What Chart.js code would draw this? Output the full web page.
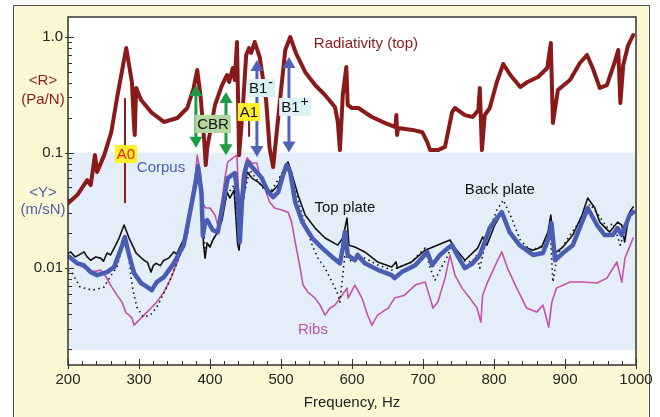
<!DOCTYPE html>
<html><head><meta charset="utf-8">
<script src="https://cdn.jsdelivr.net/npm/chart.js@4"></script>
<style>html,body{margin:0;padding:0;background:#fff;}canvas{display:block}</style>
</head><body><canvas id="c" width="660" height="417"></canvas>
<script>
// ---------- DATA ----------
const freqRad = [200,213,227,232,238,241,251,261,269,282,290,293,294,296,303,317,335,354,368,377,382,387,392,394,396,407,417,424,427,432,435,438,441,446,451,455,458,463,470,479,484,489,496,506,513,521,534,548,562,576,580,583,587,592,594,600,609,628,647,661,662.5,663.5,665,685,699,706,710,721,731,741,745,759,770,778,780,783,787,794,804,813,823,837,847,862,875,880,883,890,907,921,931,939,949,959,970,975,978,982,989,996];
const valRad = [0.0365,0.0429,0.0578,0.0523,0.095,0.0678,0.095,0.150,0.296,0.803,0.408,0.173,0.142,0.362,0.285,0.224,0.184,0.199,0.243,0.362,0.518,0.296,0.123,0.078,0.109,0.258,0.384,0.469,0.408,0.539,0.424,0.905,0.095,0.233,0.699,0.803,0.727,0.905,0.671,0.285,0.109,0.0749,0.199,0.772,1.0,0.727,0.498,0.384,0.315,0.248,0.184,0.105,0.315,0.55,0.258,0.243,0.243,0.203,0.18,0.166,0.211,0.142,0.163,0.157,0.150,0.123,0.105,0.105,0.112,0.224,0.243,0.211,0.203,0.233,0.362,0.105,0.211,0.243,0.408,0.584,0.469,0.369,0.408,0.451,0.539,0.887,0.18,0.348,0.424,0.596,0.699,0.539,0.362,0.384,0.607,0.772,0.268,0.572,0.852,1.04];

const freqCorpus = [200,204,213,222,232,241,255,265,275,280,286,293,303,314,318,325,335,349,363,373,380,383,388,390,393,396,404,411,418,425,435,439,442,445,449,453,463,473,482,489,496,503,508,513,520,530,544,558,572,583,587,590,594,604,608,618,637,656,660,670,689,700,706,713,724,735,741,748,759,770,780,787,794,804,811,822,836,855,869,877,881,886,897,911,924,932,945,956,967,974,980,984,991,996];
const valCorpus = [0.0127,0.0122,0.0110,0.0106,0.00923,0.00869,0.00923,0.0102,0.0149,0.0186,0.0130,0.00905,0.00742,0.00671,0.00645,0.00757,0.00836,0.0110,0.0158,0.0331,0.0555,0.076,0.045,0.019,0.025,0.026,0.0213,0.0205,0.0351,0.0601,0.0665,0.0429,0.0168,0.0373,0.0678,0.0827,0.0705,0.0601,0.0455,0.0412,0.0455,0.0638,0.0779,0.0678,0.0373,0.025,0.0182,0.0149,0.0125,0.0110,0.0149,0.0205,0.0130,0.0117,0.0130,0.0110,0.00961,0.00869,0.00819,0.00923,0.0106,0.0125,0.0138,0.0106,0.0130,0.0149,0.0158,0.0130,0.0100,0.0110,0.0130,0.0168,0.0222,0.0271,0.0305,0.0205,0.0158,0.0130,0.0135,0.0182,0.0245,0.0117,0.0135,0.0158,0.025,0.0331,0.0236,0.0193,0.0193,0.0222,0.0193,0.0222,0.0288,0.0305];

const freqTop = [200,204,210,215.5,222.5,227,232,239,246,250,255,260,265,272,279,286,296,307,312,317,320,324,330,335,342,349,353,359,368,375,380,383,387,391,393,396,400,404,410,417,424,428,434,439,441,446,452,459,468,477,487,496,506,510,517,524,534,548,562,580,587,593,595.6,604,618,636,656,662,664,684,703,731,738,745,759,777,784,790,801,811,822,836,855,867,876,880,886,897,911,924,932,942,949,963,974,980,984,991,996];
const valTop = [0.0135,0.0138,0.0125,0.0130,0.0138,0.0125,0.0117,0.0125,0.0122,0.0115,0.0135,0.0130,0.0149,0.0182,0.0236,0.0182,0.0135,0.0117,0.0112,0.00923,0.0105,0.0110,0.0105,0.0117,0.0122,0.0138,0.0132,0.0158,0.0205,0.0373,0.0638,0.0779,0.0429,0.0158,0.0122,0.0165,0.0152,0.0175,0.0201,0.0260,0.0455,0.0404,0.0474,0.0158,0.0143,0.0351,0.0678,0.0601,0.0555,0.0493,0.0455,0.0524,0.0779,0.0827,0.0601,0.0429,0.0288,0.0222,0.0182,0.0158,0.0182,0.0271,0.0158,0.0152,0.0138,0.0113,0.0102,0.0113,0.0100,0.0113,0.0143,0.0168,0.0175,0.0149,0.0117,0.0149,0.0186,0.0158,0.0236,0.0301,0.0205,0.0158,0.0143,0.0152,0.0205,0.0288,0.0135,0.0152,0.0193,0.0288,0.0404,0.0331,0.0250,0.0205,0.0250,0.0236,0.0168,0.0305,0.0338];

const freqBack = [200,206,217,235,251,259,269,276,280,284.5,289,291.5,297,306,316,325,335,345,356,368,375,383,389,393,400,410,424,434,439,446,456,477,487,506,513,524,534,544,552,562,572,579,583,586,590,594,600,618,637,656,684,693,703,710,717,724,734,741,752,769,776,780,790,804,813,823,837,851,872,879,883,889,907,925,935,945,959,968,978,987,996];
const valBack = [0.00961,0.00905,0.00685,0.00645,0.00685,0.00836,0.0102,0.0149,0.0182,0.0143,0.00819,0.00645,0.00459,0.00377,0.00392,0.00459,0.00607,0.00819,0.0122,0.0193,0.0351,0.0734,0.0318,0.0149,0.0158,0.0205,0.0429,0.0524,0.0175,0.0388,0.0705,0.0474,0.0474,0.0734,0.0734,0.0388,0.0236,0.0158,0.0122,0.0100,0.00757,0.0062,0.00508,0.00757,0.0130,0.0122,0.0113,0.0122,0.0106,0.00961,0.0113,0.0130,0.0149,0.0100,0.00787,0.00961,0.0125,0.0158,0.0117,0.0113,0.0130,0.0100,0.0186,0.0318,0.0388,0.0288,0.0175,0.0143,0.0158,0.0213,0.00757,0.0130,0.0193,0.0276,0.0358,0.0300,0.0226,0.0245,0.0158,0.0250,0.0311];

const freqRibs = [200,213,232,246,253,260,269,276,282,286,290,293,300,307,317,325,335,345,356,363,373,380,382,387,389,394,400,407,411,417,421,425,432,438,439.5,442,446,452,459,466,470,477,484,491,501,510,515,520,527,531,538,548,555,562,569,576,586,593,594.5,604,614,622,628,636,651,660,674,689,703,710,714,721,731,738,745,755,766,776,781.5,784,791,804,811,819,832,846,860,869,877,881.5,888,907,925,945,959,973,980,984.5,996];
const valRibs = [0.0127,0.0110,0.00923,0.00961,0.0085,0.00713,0.00583,0.00508,0.00408,0.00392,0.00369,0.00321,0.00355,0.00392,0.00451,0.00508,0.0062,0.00819,0.0122,0.0168,0.0373,0.0678,0.095,0.0638,0.0373,0.0331,0.0331,0.0288,0.0236,0.0388,0.0601,0.0827,0.0896,0.095,0.0555,0.0288,0.0638,0.0896,0.0811,0.0811,0.0638,0.0493,0.0373,0.0331,0.0318,0.0305,0.025,0.0168,0.0100,0.00713,0.0062,0.0055,0.00478,0.00392,0.00451,0.00478,0.00583,0.00671,0.0055,0.00713,0.0055,0.00392,0.00321,0.00392,0.00451,0.0055,0.00583,0.00713,0.00757,0.0055,0.00451,0.00508,0.00819,0.0130,0.00869,0.00671,0.0055,0.00451,0.00341,0.00583,0.00757,0.0113,0.0138,0.0100,0.00671,0.00451,0.00416,0.00478,0.00309,0.00508,0.00671,0.00757,0.00757,0.00742,0.00819,0.0113,0.00757,0.0122,0.0182];

const xTickValues = [200,300,400,500,600,700,800,900,1000];
const xTickLabels = ['200','300','400','500','600','700','800','900','1000'];
const yTickValues = [0.01,0.1,1];
const yTickLabels = ['0.01','0.1','1.0'];
const bandRange = [0.00195, 0.1];   // shaded <Y> region
// annotation anchors (data units)
const modeLines = [{f:280.3, v1:0.296, v2:0.0365},{f:455, v1:0.2, v2:0.137}];
const greenArrows = [{f:380.2, v1:0.384, v2:0.11},{f:422.5, v1:0.334, v2:0.095}];
const blueArrows = [{f:466.1, v1:0.632, v2:0.0917},{f:511.2, v1:0.671, v2:0.1}];
const boxLabels = [
  {t:'A0', sup:'', f:281.7, v:0.097, bg:'#fff02a', fg:'#e8261e'},
  {t:'A1', sup:'', f:454.9, v:0.224, bg:'#fff02a', fg:'#111'},
  {t:'CBR', sup:'', f:404.2, v:0.177, bg:'#b4d9a0', fg:'#111'},
  {t:'B1', sup:'-', f:471.8, v:0.362, bg:'#dcf1f5', fg:'#111'},
  {t:'B1', sup:'+', f:519.6, v:0.248, bg:'#dcf1f5', fg:'#111'}
];
const curveLabels = [
  {t:'Radiativity (top)', f:619.6, v:0.87, c:'#8c1b1b'},
  {t:'Corpus', f:331, v:0.0734, c:'#4b5cb3'},
  {t:'Top plate', f:590, v:0.0331, c:'#111'},
  {t:'Back plate', f:808.3, v:0.0474, c:'#111'},
  {t:'Ribs', f:545, v:0.0029, c:'#c452a6'}
];
const axisLabels = [
  {t:'<R>', v:0.416, c:'#8c1b1b'},
  {t:'(Pa/N)', v:0.285, c:'#8c1b1b'},
  {t:'<Y>', v:0.0446, c:'#4b5cb3'},
  {t:'(m/sN)', v:0.0318, c:'#4b5cb3'}
];

// ---------- CHART ----------
const FONT = '"Liberation Sans", Arial, Helvetica, sans-serif';
const pts = (fs, vs) => fs.map((f,i)=>({x:f, y:vs[i]}));

function dArrow(ctx, x, y1, y2, color){
  const hl=11, hw=6.5;
  ctx.strokeStyle=color; ctx.fillStyle=color; ctx.lineWidth=3;
  ctx.beginPath(); ctx.moveTo(x, y1+hl-1); ctx.lineTo(x, y2-hl+1); ctx.stroke();
  ctx.beginPath(); ctx.moveTo(x,y1); ctx.lineTo(x-hw,y1+hl); ctx.lineTo(x+hw,y1+hl); ctx.closePath(); ctx.fill();
  ctx.beginPath(); ctx.moveTo(x,y2); ctx.lineTo(x-hw,y2-hl); ctx.lineTo(x+hw,y2-hl); ctx.closePath(); ctx.fill();
}

const deco = {
  id:'deco',
  beforeDraw(chart){
    const {ctx, chartArea:a, width, height} = chart;
    ctx.save();
    ctx.fillStyle='#fff'; ctx.fillRect(0,0,width,height);
    ctx.fillStyle='#fdf8d4'; ctx.fillRect(13,5,637,440);
    ctx.strokeStyle='#555'; ctx.lineWidth=1; ctx.strokeRect(13.5,5.5,636,440);
    ctx.fillStyle='#fff'; ctx.fillRect(a.left,a.top,a.right-a.left,a.bottom-a.top);
    const ys=chart.scales.y;
    const yb=ys.getPixelForValue(bandRange[0]), yt=ys.getPixelForValue(bandRange[1]);
    ctx.fillStyle='#e3eef9'; ctx.fillRect(a.left, yt, a.right-a.left, yb-yt);
    ctx.font='15px '+FONT; ctx.textAlign='center'; ctx.textBaseline='middle';
    axisLabels.forEach(l=>{ctx.fillStyle=l.c; ctx.fillText(l.t, a.left-25, ys.getPixelForValue(l.v));});
    ctx.restore();
  },
  afterDatasetsDraw(chart){
    const {ctx, chartArea:a} = chart;
    const xs=chart.scales.x, ys=chart.scales.y;
    ctx.save();
    ctx.strokeStyle='#8c1b1b'; ctx.lineWidth=2;
    modeLines.forEach(m=>{const x=xs.getPixelForValue(m.f); ctx.beginPath(); ctx.moveTo(x, ys.getPixelForValue(m.v1)); ctx.lineTo(x, ys.getPixelForValue(m.v2)); ctx.stroke();});
    greenArrows.forEach(m=>dArrow(ctx, xs.getPixelForValue(m.f), ys.getPixelForValue(m.v1), ys.getPixelForValue(m.v2), '#1c9a45'));
    blueArrows.forEach(m=>dArrow(ctx, xs.getPixelForValue(m.f), ys.getPixelForValue(m.v1), ys.getPixelForValue(m.v2), '#5262b8'));
    ctx.textBaseline='middle';
    boxLabels.forEach(b=>{
      const cx=xs.getPixelForValue(b.f), cy=ys.getPixelForValue(b.v);
      ctx.font='15px '+FONT; const w1=ctx.measureText(b.t).width;
      ctx.font='14px '+FONT; const w2=b.sup?ctx.measureText(b.sup).width+1:0;
      const w=w1+w2+4, h=18;
      ctx.fillStyle=b.bg; ctx.fillRect(cx-w/2, cy-h/2, w, h);
      ctx.fillStyle=b.fg; ctx.textAlign='left';
      ctx.font='15px '+FONT; ctx.fillText(b.t, cx-w/2+2, cy+1);
      if(b.sup){ctx.font='14px '+FONT; ctx.fillText(b.sup, cx-w/2+2+w1+1, cy-5);}
    });
    ctx.font='15px '+FONT; ctx.textAlign='center';
    curveLabels.forEach(l=>{ctx.fillStyle=l.c; ctx.fillText(l.t, xs.getPixelForValue(l.f), ys.getPixelForValue(l.v));});
    ctx.strokeStyle='#333'; ctx.lineWidth=1.5;
    ctx.strokeRect(a.left, a.top, a.right-a.left, a.bottom-a.top);
    ctx.lineWidth=1; ctx.strokeStyle='#333';
    for(let k=-3;k<=0;k++){for(let d=1;d<=9;d++){
      const v=d*Math.pow(10,k); if(v<ys.min||v>ys.max) continue;
      const py=Math.round(ys.getPixelForValue(v))+0.5; const major=d===1;
      ctx.beginPath(); ctx.moveTo(a.left-(major?3:0), py); ctx.lineTo(a.left+(major?6:4), py); ctx.stroke();
    }}
    for(let f=200; f<=1000; f+=20){
      const px=Math.round(xs.getPixelForValue(f))+0.5; const major=f%100===0;
      ctx.beginPath(); ctx.moveTo(px, a.bottom+(major?4:0)); ctx.lineTo(px, a.bottom-(major?6:4)); ctx.stroke();
    }
    ctx.restore();
  }
};

const common = {pointRadius:0, pointHoverRadius:0, tension:0, fill:false, borderJoinStyle:'round', borderCapStyle:'round'};
new Chart(document.getElementById('c'), {
  type:'line',
  data:{datasets:[
    {...common, label:'Radiativity (top)', data:pts(freqRad,valRad), borderColor:'#8a1a1a', borderWidth:4},
    {...common, label:'Corpus', data:pts(freqCorpus,valCorpus), borderColor:'#4b5cb3', borderWidth:4.5},
    {...common, label:'Top plate', data:pts(freqTop,valTop), borderColor:'#111', borderWidth:1.6},
    {...common, label:'Back plate', data:pts(freqBack,valBack), borderColor:'#111', borderWidth:1.6, borderDash:[1.5,3.5], borderCapStyle:'butt'},
    {...common, label:'Ribs', data:pts(freqRibs,valRibs), borderColor:'#c452a6', borderWidth:1.6}
  ]},
  options:{
    responsive:false, animation:false, devicePixelRatio:1,
    layout:{padding:{top:17, right:24, left:0, bottom:0}},
    plugins:{legend:{display:false}, tooltip:{enabled:false}},
    scales:{
      x:{type:'linear', min:200, max:1000,
        afterBuildTicks:s=>{s.ticks=xTickValues.map(v=>({value:v}));},
        ticks:{color:'#222', font:{family:FONT, size:15}, padding:6, maxRotation:0, autoSkip:false,
          callback:(v)=>{const i=xTickValues.indexOf(v); return i>=0?xTickLabels[i]:'';}},
        grid:{display:false, drawTicks:false, tickLength:0}, border:{display:false},
        title:{display:true, text:'Frequency, Hz', color:'#222', font:{family:FONT, size:15}, padding:{top:4, bottom:5}},
        afterFit:s=>{s.height=52;}
      },
      y:{type:'logarithmic', min:0.00145, max:1.49,
        afterBuildTicks:s=>{s.ticks=yTickValues.map(v=>({value:v}));},
        ticks:{color:'#222', font:{family:FONT, size:15}, padding:5, callback:(v)=>{const i=yTickValues.indexOf(v); return i>=0?yTickLabels[i]:'';}},
        grid:{display:false, drawTicks:false, tickLength:0}, border:{display:false},
        afterFit:s=>{s.width=68;}
      }
    }
  },
  plugins:[deco]
});
</script></body></html>
